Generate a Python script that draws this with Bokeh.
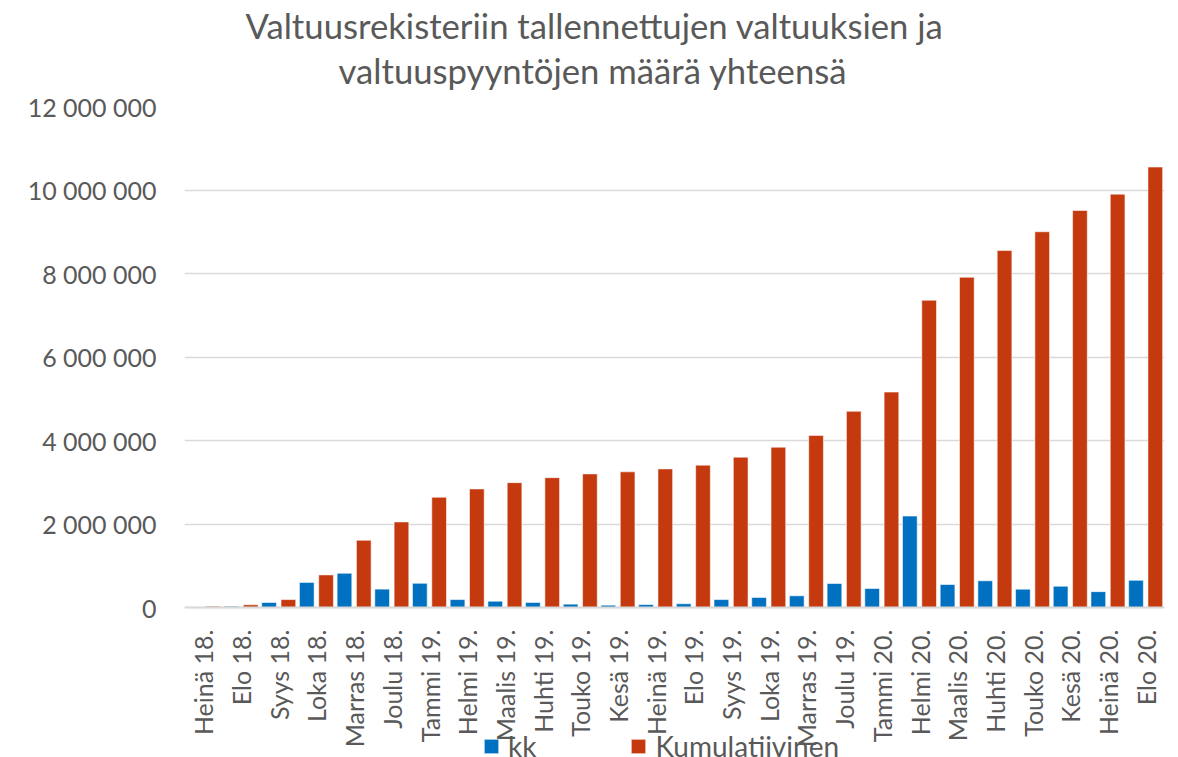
import math
from bokeh.plotting import figure
from bokeh.models import ColumnDataSource, FactorRange, Range1d, FixedTicker, Legend, LegendItem, Title
from bokeh.transform import dodge
from bokeh.embed import file_html
from bokeh.resources import INLINE

months = ["Heinä 18.", "Elo 18.", "Syys 18.", "Loka 18.", "Marras 18.", "Joulu 18.",
          "Tammi 19.", "Helmi 19.", "Maalis 19.", "Huhti 19.", "Touko 19.", "Kesä 19.",
          "Heinä 19.", "Elo 19.", "Syys 19.", "Loka 19.", "Marras 19.", "Joulu 19.",
          "Tammi 20.", "Helmi 20.", "Maalis 20.", "Huhti 20.", "Touko 20.", "Kesä 20.",
          "Heinä 20.", "Elo 20."]

kk = [8000, 30000, 120000, 600000, 820000, 440000,
      580000, 190000, 150000, 120000, 80000, 55000,
      70000, 90000, 190000, 240000, 280000, 575000,
      455000, 2190000, 550000, 640000, 440000, 510000,
      380000, 650000]

kumulatiivinen = [30000, 65000, 190000, 780000, 1610000, 2050000,
                  2640000, 2840000, 2990000, 3110000, 3200000, 3250000,
                  3320000, 3410000, 3600000, 3840000, 4120000, 4700000,
                  5160000, 7360000, 7910000, 8550000, 9000000, 9510000,
                  9900000, 10550000]

y_ticks = [0, 2000000, 4000000, 6000000, 8000000, 10000000, 12000000]
y_tick_labels = ["0", "2 000 000", "4 000 000", "6 000 000", "8 000 000", "10 000 000", "12 000 000"]

title_line1 = "Valtuusrekisteriin tallennettujen valtuuksien ja"
title_line2 = "valtuuspyyntöjen määrä yhteensä"

BLUE = "#0070C0"
RED = "#C43A0E"
TXT = "#595959"
FONT = "Lato"

# layout (pixels)
W, H = 1172, 757
FRAME_LEFT = 184
FRAME_TOP = 106
ZERO_PX = 607
Y_MAX = 12000000
y_min = -Y_MAX * (H - ZERO_PX) / (ZERO_PX - FRAME_TOP)

src = ColumnDataSource(dict(month=months, kk=kk, kum=kumulatiivinen))

p = figure(x_range=FactorRange(factors=months), y_range=Range1d(y_min, Y_MAX),
           width=W, height=H, output_backend="svg", toolbar_location=None,
           min_border_left=FRAME_LEFT, min_border_right=W - 1164, min_border_top=FRAME_TOP,
           min_border_bottom=0, title=None)
p.outline_line_color = None

t2 = Title(text=title_line2, align="left", text_font=FONT, text_font_size="34.7px",
           text_color=TXT, text_font_style="normal", standoff=32, offset=338 - FRAME_LEFT)
t1 = Title(text=title_line1, align="left", text_font=FONT, text_font_size="34.7px",
           text_color=TXT, text_font_style="normal", standoff=-28, offset=245 - FRAME_LEFT)
p.add_layout(t2, "above")
p.add_layout(t1, "above")

r1 = p.vbar(x=dodge("month", -0.256, range=p.x_range), top="kk", bottom=0, width=0.39, source=src,
            fill_color=BLUE, line_color="white", line_alpha=0.55, line_width=1)
r2 = p.vbar(x=dodge("month", 0.256, range=p.x_range), top="kum", bottom=0, width=0.39, source=src,
            fill_color=RED, line_color="white", line_alpha=0.55, line_width=1)

# y axis
p.yaxis.ticker = FixedTicker(ticks=y_ticks)
p.yaxis.major_label_overrides = {t: l for t, l in zip(y_ticks, y_tick_labels)}
p.yaxis.axis_line_color = None
p.yaxis.major_tick_line_color = None
p.yaxis.minor_tick_line_color = None
p.yaxis.major_label_standoff = 22
p.yaxis.major_label_text_font = FONT
p.yaxis.major_label_text_font_size = "25px"
p.yaxis.major_label_text_color = TXT

# x axis, pinned at zero
p.xaxis.fixed_location = 0
p.xaxis.major_label_orientation = math.pi / 2
p.xaxis.axis_line_color = "#D9D9D9"
p.xaxis.axis_line_width = 2
p.xaxis.major_tick_line_color = None
p.xaxis.minor_tick_line_color = None
p.xaxis.major_label_standoff = 16
p.xaxis.major_label_text_font = FONT
p.xaxis.major_label_text_font_size = "25px"
p.xaxis.major_label_text_color = TXT

p.xgrid.grid_line_color = None
p.ygrid.grid_line_color = "#D9D9D9"
p.ygrid.grid_line_width = 1.5

legend = Legend(items=[LegendItem(label="kk", renderers=[r1]),
                       LegendItem(label="Kumulatiivinen", renderers=[r2])],
                location=(298, -6), orientation="horizontal",
                label_text_font=FONT, label_text_font_size="28px", label_text_color=TXT,
                glyph_width=18, glyph_height=18, label_standoff=8, spacing=93,
                padding=0, margin=0, border_line_alpha=0, background_fill_alpha=0)
p.add_layout(legend, "center")

open("out.html", "w").write(file_html(p, INLINE))
